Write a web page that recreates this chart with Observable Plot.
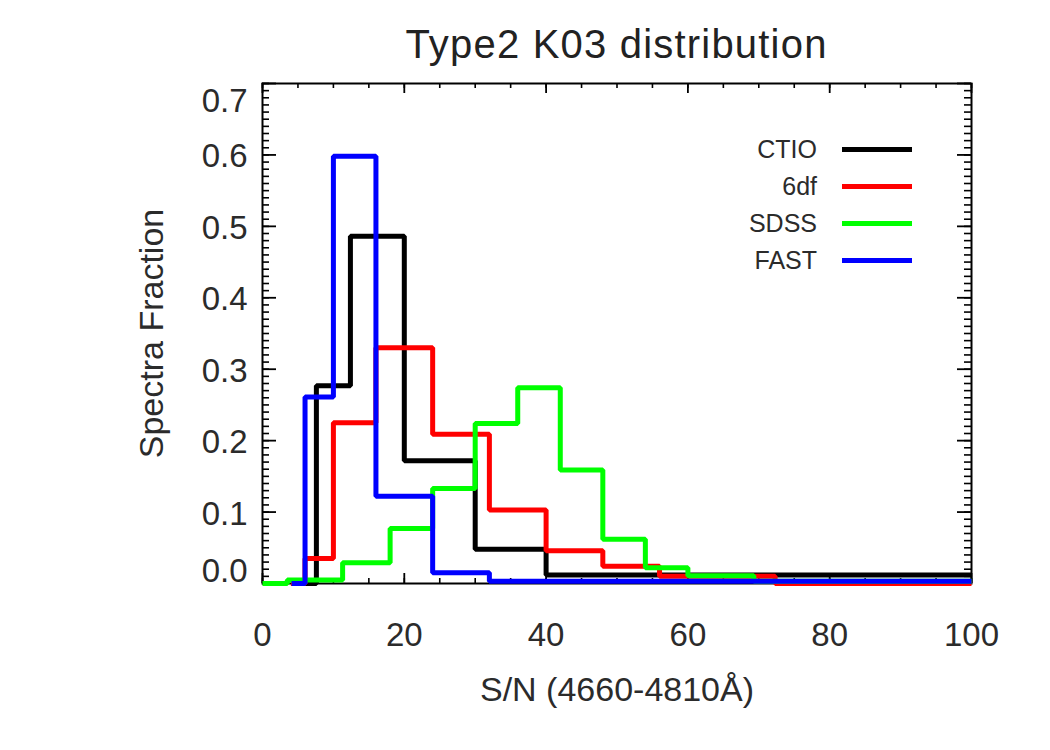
<!DOCTYPE html>
<html>
<head>
<meta charset="utf-8">
<script src="https://cdn.jsdelivr.net/npm/d3@7"></script>
<script src="https://cdn.jsdelivr.net/npm/@observablehq/plot@0.6"></script>
<style>
  body { margin: 0; background: #fff; }
  #fig { position: relative; width: 1050px; height: 750px; background: #fff;
         font-family: "Liberation Sans", Arial, Helvetica, sans-serif; color: #2b2b2b; }
  #title { height: 80px; box-sizing: border-box; padding-top: 24px; margin-left: 262px; width: 709px;
           font-size: 40px; line-height: 40px; text-align: center; letter-spacing: 1.2px; white-space: nowrap; color: #222; }
  #legend { position: absolute; left: 0; top: 0; }
  .lg-label { position: absolute; width: 120px; text-align: right; font-size: 25px; line-height: 30px; }
  .lg-line { position: absolute; height: 5px; }
</style>
</head>
<body>
<div id="fig">
  <div id="title">Type2 K03 distribution</div>
  <div id="legend"></div>
</div>
<script>
// Survey names and line colours
const surveys = ["CTIO", "6df", "SDSS", "FAST"];
const surveyColors = ["#000000", "#ff0000", "#00ff00", "#0000ff"];

// Step histograms: bin edges (S/N) and fraction of spectra in each bin
const ctioEdges = [5.5, 7.6, 12.4, 20, 30, 40, 100];
const ctioFrac  = [0, 0.277, 0.486, 0.172, 0.048, 0.012];

const sixdfEdges = [4, 6, 10, 16, 24, 32, 40, 48, 56, 72.3, 100];
const sixdfFrac  = [0, 0.035, 0.225, 0.330, 0.209, 0.103, 0.046, 0.024, 0.010, 0];

const sdssEdges = [0, 3.5, 11.3, 18, 24, 30, 36, 42, 48, 54, 60, 69.3, 100];
const sdssFrac  = [0, 0.005, 0.029, 0.077, 0.133, 0.224, 0.274, 0.159, 0.062, 0.022, 0.011, 0.003];

const fastEdges = [4.1, 6, 10, 16, 24, 32, 100];
const fastFrac  = [0, 0.261, 0.598, 0.122, 0.015, 0.003];

// Axis ticks and their labels
const xTicks = [0, 20, 40, 60, 80, 100];
const xTickLabels = ["0", "20", "40", "60", "80", "100"];
const yTicks = [0, 0.1, 0.2, 0.3, 0.4, 0.5, 0.6, 0.7];
const yTickLabels = ["0.0", "0.1", "0.2", "0.3", "0.4", "0.5", "0.6", "0.7"];
const xMinorStep = 5;
const yMinorStep = 0.01;

const xTitle = "S/N (4660-4810Å)";
const yTitle = "Spectra Fraction";

// Turn edges + bin values into points for a step-after line
function steps(name, edges, frac) {
  const pts = frac.map((f, i) => ({survey: name, x: edges[i], y: f}));
  pts.push({survey: name, x: edges[edges.length - 1], y: frac[frac.length - 1]});
  return pts;
}
const histData = [
  ...steps("CTIO", ctioEdges, ctioFrac),
  ...steps("6df", sixdfEdges, sixdfFrac),
  ...steps("SDSS", sdssEdges, sdssFrac),
  ...steps("FAST", fastEdges, fastFrac)
];

const margin = {top: 3, right: 79, bottom: 167, left: 262};
const W = 1050, H = 670;
const innerW = W - margin.left - margin.right;
const innerH = H - margin.top - margin.bottom;

const xMinor = d3.range(0, 100 + 1e-9, xMinorStep);
const yMinor = d3.range(0, 70 + 1e-9, yMinorStep * 100).map(v => v / 100);

const ink = "#2b2b2b";
const tickFmtY = d => yTickLabels[yTicks.indexOf(d)];
const tickFmtX = d => xTickLabels[xTicks.indexOf(d)];

const chart = Plot.plot({
  width: W, height: H,
  marginTop: margin.top, marginRight: margin.right, marginBottom: margin.bottom, marginLeft: margin.left,
  x: {domain: [0, 100], axis: null},
  y: {domain: [0, 0.7], axis: null},
  color: {domain: surveys, range: surveyColors},
  style: {fontFamily: '"Liberation Sans", Arial, Helvetica, sans-serif', background: "#fff", color: ink},
  marks: [
    Plot.frame({stroke: "#000", strokeWidth: 2}),
    // inward ticks on all four sides
    Plot.tickY(yMinor, {y: d => d, insetRight: innerW - 7, stroke: "#000", strokeWidth: 1.6}),
    Plot.tickY(yTicks, {y: d => d, insetRight: innerW - 14, stroke: "#000", strokeWidth: 1.8}),
    Plot.tickY(yMinor, {y: d => d, insetLeft: innerW - 7, stroke: "#000", strokeWidth: 1.6}),
    Plot.tickY(yTicks, {y: d => d, insetLeft: innerW - 14, stroke: "#000", strokeWidth: 1.8}),
    Plot.tickX(xMinor, {x: d => d, insetTop: innerH - 5, stroke: "#000", strokeWidth: 1.6}),
    Plot.tickX(xTicks, {x: d => d, insetTop: innerH - 10, stroke: "#000", strokeWidth: 1.8}),
    Plot.tickX(xMinor, {x: d => d, insetBottom: innerH - 5, stroke: "#000", strokeWidth: 1.6}),
    Plot.tickX(xTicks, {x: d => d, insetBottom: innerH - 10, stroke: "#000", strokeWidth: 1.8}),
    // tick labels
    Plot.axisX({ticks: xTicks, tickFormat: tickFmtX, tickSize: 0, tickPadding: 39, fontSize: 33, fill: ink, label: null}),
    Plot.axisY({ticks: yTicks.slice(1, 7), tickFormat: tickFmtY, tickSize: 0, tickPadding: 15, fontSize: 33, fill: ink, label: null, dy: 2}),
    Plot.axisY({ticks: [yTicks[7]], tickFormat: tickFmtY, tickSize: 0, tickPadding: 15, fontSize: 33, fill: ink, label: null, dy: 18}),
    Plot.axisY({ticks: [yTicks[0]], tickFormat: tickFmtY, tickSize: 0, tickPadding: 15, fontSize: 33, fill: ink, label: null, dy: -12}),
    // axis titles
    Plot.text([xTitle], {frameAnchor: "bottom", dy: 107, fontSize: 34, fill: ink, lineAnchor: "middle", textAnchor: "middle"}),
    Plot.text([yTitle], {frameAnchor: "left", dx: -110, rotate: -90, fontSize: 34, fill: ink, lineAnchor: "middle", textAnchor: "middle"}),
    // histograms
    Plot.line(histData, {x: "x", y: "y", z: "survey", stroke: "survey", curve: "step-after",
      strokeWidth: 5, strokeLinejoin: "miter", strokeLinecap: "butt"})
  ]
});
document.getElementById("fig").insertBefore(chart, document.getElementById("legend"));

// Legend inside the plot area
const legend = document.getElementById("legend");
const rowCenters = [149, 186, 223, 260];
surveys.forEach((s, i) => {
  const lab = document.createElement("div");
  lab.className = "lg-label";
  lab.textContent = s;
  lab.style.left = (817 - 120) + "px";
  lab.style.top = (rowCenters[i] - 15) + "px";
  const ln = document.createElement("div");
  ln.className = "lg-line";
  ln.style.left = "842px";
  ln.style.width = "70px";
  ln.style.top = (rowCenters[i] - 2.5) + "px";
  ln.style.background = surveyColors[i];
  legend.appendChild(lab);
  legend.appendChild(ln);
});
</script>
</body>
</html>
